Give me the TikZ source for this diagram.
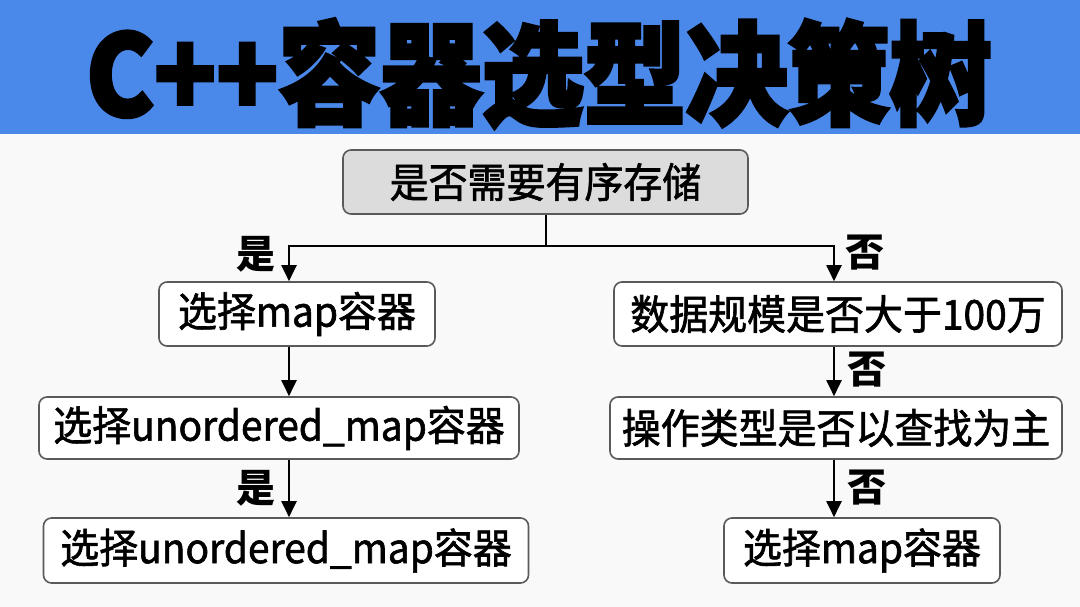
\documentclass[tikz,border=0pt]{standalone}
\usepackage{fontspec}
\usetikzlibrary{arrows.meta,calc}
\setmainfont{Noto Sans CJK SC}
\newfontfamily\titlefont{Noto Sans CJK SC}[BoldFeatures={FakeBold=3,FakeStretch=0.91}]
\newfontfamily\boxfont{Noto Sans CJK SC}[FakeBold=1.5,FakeStretch=0.95]
\newfontfamily\lblfont{Noto Sans CJK SC}
\definecolor{headblue}{HTML}{4A88EA}
\definecolor{pagebg}{HTML}{F9F9F9}
\definecolor{topfill}{HTML}{DCDCDC}
\definecolor{boxline}{HTML}{5A5A5A}
\tikzset{
  box/.style={draw=boxline, line width=1.6pt, rounded corners=8pt, fill=white,
    inner sep=0pt, align=center,
    font=\boxfont\fontsize{41}{46}\selectfont},
  topbox/.style={box, fill=topfill},
  arr/.style={line width=2pt, -{Triangle[length=16pt,width=15pt]}},
  conn/.style={line width=2pt},
  lbl/.style={font=\lblfont\bfseries\fontsize{39}{42}\selectfont, inner sep=0pt}
}
\begin{document}
\begin{tikzpicture}[x=1pt,y=-1pt]
\useasboundingbox (0,0) rectangle (1080,607);
\fill[pagebg] (0,0) rectangle (1080,607);
\fill[headblue] (0,0) rectangle (1080,134);
\node[anchor=base, inner sep=0pt, font=\titlefont\bfseries\fontsize{112}{116}\selectfont] (title) at (539,116) {C++容器选型决策树};

\node[topbox, minimum width=405pt, minimum height=64pt] (top) at (545.5,182) {是否需要有序存储};
\node[box, minimum width=276pt, minimum height=64pt] (mapL) at (297,314) {选择map容器};
\node[box, minimum width=448pt, minimum height=64pt] (big) at (838,314) {数据规模是否大于100万};
\node[box, minimum width=480pt, minimum height=62pt] (un1) at (279,428) {选择unordered\_map容器};
\node[box, minimum width=452pt, minimum height=62pt] (op) at (836,428) {操作类型是否以查找为主};
\node[box, minimum width=485pt, minimum height=65pt] (un2) at (286,550.5) {选择unordered\_map容器};
\node[box, minimum width=276pt, minimum height=65pt] (mapR) at (862,550.5) {选择map容器};

\coordinate (j) at (top.south |- 0,246);
\coordinate (jl) at (289,246);
\coordinate (jr) at (834,246);
\draw[conn] (top.south) -- (j);
\draw[arr] (j) -- (jl) -- (jl |- mapL.north);
\draw[arr] (j) -- (jr) -- (jr |- big.north);
\draw[arr] (mapL.south -| jl) -- (jl |- un1.north);
\draw[arr] (un1.south -| jl) -- (jl |- un2.north);
\draw[arr] (big.south -| jr) -- (jr |- op.north);
\draw[arr] (op.south -| jr) -- (jr |- mapR.north);

\node[lbl] (l1) at (256,254) {是};
\node[lbl] (l2) at (865,253) {否};
\node[lbl] (l3) at (867,370) {否};
\node[lbl] (l4) at (256,488) {是};
\node[lbl] (l5) at (867,488) {否};
\end{tikzpicture}
\end{document}
